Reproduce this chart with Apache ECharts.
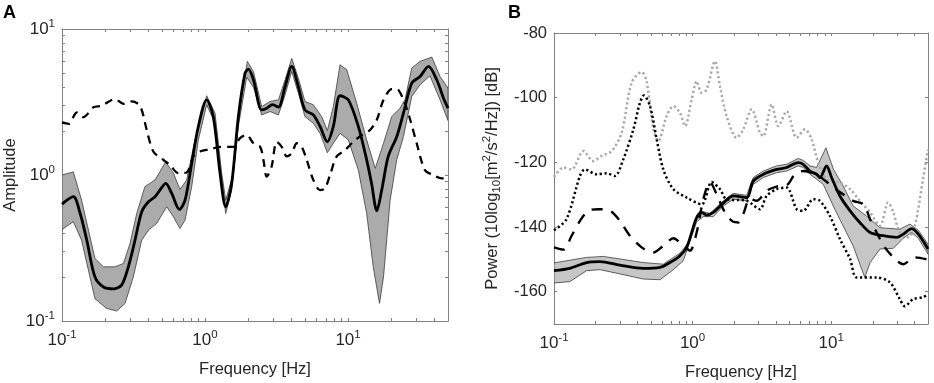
<!DOCTYPE html>
<html>
<head>
<meta charset="utf-8">
<script src="https://cdn.jsdelivr.net/npm/echarts@6/dist/echarts.min.js"></script>
<style>
  html, body { margin: 0; padding: 0; background: #fff; }
  #chart { width: 934px; height: 383px; }
</style>
</head>
<body>
<div id="chart"></div>
<script>
// ---- panel A: amplitude (log-log) ----
const ampMean = [[0.100,0.632],[0.120,0.710],[0.134,0.545],[0.149,0.358],[0.170,0.200],[0.195,0.171],[0.229,0.166],[0.261,0.176],[0.291,0.235],[0.324,0.358],[0.361,0.560],[0.402,0.656],[0.447,0.710],[0.484,0.789],[0.531,0.877],[0.585,0.748],[0.662,0.581],[0.725,0.673],[0.807,1.20],[0.898,2.15],[1.027,3.27],[1.143,2.51],[1.273,1.03],[1.395,0.606],[1.537,0.877],[1.710,2.51],[1.905,4.99],[2.01,5.31],[2.18,4.49],[2.49,2.79],[2.70,2.87],[2.97,3.03],[3.26,2.92],[3.63,4.04],[4.04,5.54],[4.49,4.04],[5.00,2.79],[5.72,2.58],[6.37,2.15],[7.17,1.69],[7.89,2.15],[8.79,3.49],[10.05,3.27],[11.8,2.15],[13.5,1.27],[14.6,0.877],[15.9,0.569],[17.2,0.789],[19.1,1.34],[21.9,1.83],[24.4,2.65],[27.9,4.26],[31.9,4.73],[36.5,5.54],[41.7,4.49],[46.5,3.36],[50,2.87]];
const ampUpper = [[0.100,1.00],[0.120,1.05],[0.137,0.673],[0.170,0.268],[0.195,0.235],[0.235,0.235],[0.269,0.248],[0.299,0.340],[0.333,0.545],[0.380,0.832],[0.447,0.924],[0.531,1.23],[0.601,1.03],[0.668,0.797],[0.744,0.924],[0.852,1.74],[1.027,3.49],[1.175,2.65],[1.308,1.03],[1.395,0.673],[1.578,1.03],[1.757,2.94],[1.977,6.00],[2.18,5.12],[2.49,2.94],[2.85,3.19],[3.26,3.27],[3.63,4.49],[4.04,6.29],[4.49,4.61],[5.00,3.19],[5.72,3.03],[6.55,2.51],[7.17,2.01],[7.89,2.94],[8.79,5.69],[9.80,5.26],[11.5,3.10],[13.5,1.74],[15.5,1.11],[17.7,1.65],[20.2,2.51],[23.1,2.87],[25.0,3.27],[27.9,5.40],[31.9,6.00],[38.5,6.42],[44.0,4.73],[50,3.94]];
const ampLower = [[0.100,0.424],[0.120,0.479],[0.137,0.358],[0.170,0.142],[0.205,0.122],[0.241,0.117],[0.276,0.132],[0.315,0.200],[0.361,0.358],[0.402,0.419],[0.459,0.466],[0.540,0.606],[0.601,0.518],[0.668,0.430],[0.725,0.491],[0.807,0.832],[0.898,1.74],[1.027,3.03],[1.175,2.26],[1.308,0.924],[1.395,0.545],[1.537,0.789],[1.710,2.15],[1.956,4.68],[2.18,4.00],[2.49,2.58],[2.85,2.72],[3.26,2.58],[3.63,3.54],[4.04,5.12],[4.49,3.64],[5.00,2.51],[5.72,2.26],[6.37,1.93],[7.17,1.42],[7.89,1.65],[8.79,1.93],[10.05,1.74],[11.8,1.08],[13.5,0.545],[15.0,0.235],[16.6,0.132],[17.7,0.200],[19.7,0.673],[21.9,1.27],[24.4,1.83],[27.9,3.45],[31.9,4.15],[37.4,4.78],[44.0,3.27],[50,2.36]];
const ampDashed = [[0.100,2.29],[0.111,2.24],[0.127,2.68],[0.141,2.49],[0.166,2.91],[0.189,2.98],[0.235,3.31],[0.269,3.07],[0.307,3.19],[0.351,2.98],[0.391,2.04],[0.435,1.45],[0.511,1.27],[0.569,1.17],[0.651,1.03],[0.744,1.04],[0.829,1.34],[0.923,1.45],[1.084,1.50],[1.273,1.56],[1.578,1.56],[1.757,1.79],[1.956,1.88],[2.18,1.65],[2.43,1.56],[2.56,1.27],[2.70,0.974],[2.92,1.14],[3.17,1.69],[3.44,1.56],[3.73,1.34],[4.04,1.41],[4.38,1.65],[4.74,1.56],[5.14,1.27],[5.72,0.924],[6.37,0.789],[6.90,0.810],[7.48,1.00],[8.33,1.34],[9.53,1.48],[10.9,1.69],[12.5,1.88],[14.3,2.04],[15.9,2.39],[17.7,3.27],[20.2,3.87],[21.9,3.87],[24.4,3.27],[27.2,2.39],[30.2,1.65],[34.5,1.08],[39.5,1.00],[45.2,0.949],[50,0.974]];

// ---- panel B: power spectral density (dB) ----
const psdMean = [[0.100,-153.5],[0.130,-152.8],[0.172,-151.0],[0.215,-150.7],[0.299,-151.8],[0.441,-152.8],[0.582,-152.5],[0.687,-151.0],[0.811,-148.9],[0.906,-146.3],[0.985,-141.7],[1.070,-137.1],[1.163,-135.5],[1.263,-136.3],[1.411,-135.5],[1.666,-132.6],[1.968,-130.4],[2.455,-130.9],[2.74,-125.8],[3.24,-123.7],[4.04,-122.2],[4.77,-121.6],[5.79,-120.1],[6.29,-120.6],[7.03,-122.7],[7.85,-123.7],[8.30,-124.7],[9.27,-121.1],[10.07,-124.7],[11.57,-130.4],[13.7,-135.0],[16.1,-138.6],[19.1,-141.7],[23.8,-142.7],[29.7,-143.2],[33.1,-142.2],[38.1,-140.5],[42.6,-142.2],[50,-146.8]];
const psdUpper = [[0.100,-151.1],[0.172,-149.4],[0.227,-149.1],[0.441,-151.0],[0.615,-151.5],[0.811,-148.1],[0.958,-144.3],[1.070,-136.6],[1.195,-135.3],[1.335,-135.8],[1.666,-131.9],[1.968,-129.6],[2.455,-130.2],[2.74,-124.7],[3.24,-122.7],[4.04,-121.1],[4.77,-120.6],[5.79,-118.8],[6.29,-119.4],[7.03,-121.1],[7.85,-121.6],[9.17,-115.5],[10.4,-122.2],[12.2,-127.3],[14.4,-133.5],[18.0,-136.6],[22.5,-140.2],[31.3,-140.7],[37.0,-139.1],[42.6,-141.0],[50,-145.3]];
const psdLower = [[0.100,-157.3],[0.130,-156.9],[0.172,-153.5],[0.215,-153.2],[0.299,-154.5],[0.441,-156.1],[0.582,-156.3],[0.726,-153.2],[0.857,-150.4],[0.985,-142.9],[1.070,-138.4],[1.195,-136.8],[1.411,-136.8],[1.666,-133.5],[1.968,-131.4],[2.455,-131.9],[2.74,-126.8],[3.24,-124.7],[4.04,-123.2],[4.77,-122.7],[5.79,-121.1],[6.29,-121.6],[7.03,-123.7],[7.85,-125.2],[8.77,-126.8],[10.9,-135.5],[14.4,-145.8],[17.5,-155.6],[19.1,-151.0],[22.5,-146.8],[28.1,-146.6],[33.1,-143.5],[38.1,-141.7],[42.6,-143.5],[50,-148.4]];
const psdDashed = [[0.100,-146.3],[0.117,-147.0],[0.134,-142.7],[0.154,-138.1],[0.177,-135.0],[0.209,-134.5],[0.254,-135.0],[0.299,-138.1],[0.353,-142.7],[0.429,-146.3],[0.521,-147.9],[0.615,-145.8],[0.726,-143.5],[0.857,-145.8],[0.958,-147.3],[1.070,-141.7],[1.195,-131.4],[1.335,-126.1],[1.492,-129.9],[1.714,-135.5],[1.968,-138.4],[2.14,-138.6],[2.32,-136.0],[2.60,-131.2],[2.90,-131.9],[3.42,-128.8],[4.04,-127.5],[4.77,-127.1],[5.48,-123.7],[6.29,-122.7],[7.43,-123.4],[8.78,-125.2],[10.4,-127.8],[12.2,-129.9],[14.4,-131.9],[17.1,-133.0],[19.1,-137.6],[21.3,-141.7],[24.4,-146.3],[29.7,-150.4],[33.1,-151.5],[40.2,-149.4],[50,-150.1]];
const psdDotted = [[0.100,-141.0],[0.123,-137.6],[0.154,-124.2],[0.167,-122.2],[0.203,-123.7],[0.240,-123.4],[0.275,-124.2],[0.316,-119.1],[0.374,-109.8],[0.417,-101.6],[0.446,-99.3],[0.493,-102.6],[0.551,-112.9],[0.615,-122.2],[0.726,-128.3],[0.906,-130.9],[1.163,-133.0],[1.373,-126.1],[1.577,-128.3],[1.761,-131.4],[2.455,-131.9],[3.06,-134.5],[3.42,-130.4],[4.04,-128.3],[4.77,-127.8],[5.64,-134.5],[6.29,-135.0],[7.43,-131.4],[8.30,-131.9],[9.80,-136.6],[11.6,-143.8],[13.7,-149.9],[15.3,-155.6],[21.3,-155.6],[26.5,-157.1],[31.3,-162.3],[34.0,-164.5],[39.1,-162.3],[46.2,-161.7],[50,-160.7]];
const psdGrayDotted = [[0.100,-124.5],[0.117,-121.6],[0.134,-122.2],[0.163,-116.5],[0.192,-119.6],[0.221,-118.0],[0.261,-116.5],[0.308,-110.8],[0.363,-95.4],[0.429,-92.1],[0.466,-94.9],[0.521,-109.8],[0.566,-113.4],[0.650,-105.7],[0.726,-102.6],[0.811,-104.7],[0.882,-108.8],[0.985,-100.6],[1.070,-94.9],[1.163,-98.5],[1.263,-97.5],[1.451,-88.7],[1.577,-96.5],[1.761,-105.7],[2.08,-112.4],[2.32,-109.8],[2.67,-103.6],[3.06,-110.8],[3.24,-111.9],[3.72,-102.1],[4.16,-108.8],[4.77,-104.2],[5.64,-112.4],[6.47,-109.8],[7.23,-112.9],[8.07,-120.1],[9.27,-125.2],[11.6,-126.3],[13.7,-128.3],[16.1,-131.9],[19.1,-135.5],[22.5,-139.6],[25.8,-132.4],[28.1,-135.5],[31.3,-141.7],[36.0,-143.2],[40.2,-139.6],[46.2,-124.7],[50,-116.0]];

// ---- ticks ----
const freqTicks = [0.1,0.2,0.3,0.4,0.5,0.6,0.7,0.8,0.9,1,2,3,4,5,6,7,8,9,10,20,30,40,50];
const ampTicks = [0.1,0.2,0.3,0.4,0.5,0.6,0.7,0.8,0.9,1,2,3,4,5,6,7,8,9,10];
const decadeLabels = [0.1, 1, 10];
const dbTicks = [-160, -140, -120, -100, -80];

const FONT = "'Liberation Sans', Arial, sans-serif";
const AXIS = "#808080";
const TXT = "#262626";

const rich = {
  b: { fontSize: 17, fontFamily: FONT, color: TXT, lineHeight: 22 },
  s: { fontSize: 11.5, fontFamily: FONT, color: TXT, lineHeight: 11, verticalAlign: "top" },
  u: { fontSize: 11.5, fontFamily: FONT, color: TXT, lineHeight: 11, verticalAlign: "bottom" }
};
const powLabel = v => `{b|10}{s|${Math.round(Math.log10(v))}}`;
const nameStyle = { fontSize: 16.5, fontFamily: FONT, color: TXT, lineHeight: 22, rich };

function axisCommon(ticks) {
  return {
    axisLine: { show: true, onZero: false, lineStyle: { color: AXIS, width: 1 } },
    axisTick: { show: true, inside: true, length: 3, customValues: ticks, lineStyle: { color: AXIS } },
    splitLine: { show: false },
    minorTick: { show: false },
    nameMoveOverlap: false
  };
}

function freqAxis(grid, pos, withLabels) {
  return Object.assign(axisCommon(freqTicks), {
    type: "log", logBase: 10, gridIndex: grid, position: pos, min: 0.1, max: 50,
    axisLabel: { show: withLabels, customValues: decadeLabels, formatter: powLabel, rich, margin: 8 },
    name: withLabels ? "Frequency [Hz]" : "",
    nameLocation: "middle", nameGap: 37, nameTextStyle: nameStyle
  });
}

function ampAxis(pos, withLabels) {
  return Object.assign(axisCommon(ampTicks), {
    type: "log", logBase: 10, gridIndex: 0, position: pos, min: 0.1, max: 10,
    axisLabel: { show: withLabels, customValues: decadeLabels, formatter: powLabel, rich, margin: 7 },
    name: withLabels ? "Amplitude" : "",
    nameLocation: "middle", nameRotate: 90, nameGap: 41, nameTextStyle: nameStyle
  });
}

function dbAxis(pos, withLabels) {
  return Object.assign(axisCommon(dbTicks), {
    type: "value", gridIndex: 1, position: pos, min: -170, max: -80,
    axisLabel: { show: withLabels, customValues: dbTicks, margin: 7, fontSize: 16.5, fontFamily: FONT, color: TXT },
    name: withLabels ? "Power (10log{u|10}[m{s|2}/s{s|2}/Hz]) [dB]" : "",
    nameLocation: "middle", nameRotate: 90, nameGap: 51, nameTextStyle: nameStyle
  });
}

function line(ax, data, color, width, type) {
  return {
    type: "line", xAxisIndex: ax, yAxisIndex: ax, data,
    showSymbol: false, symbol: "none", smooth: 0.3, silent: true,
    lineStyle: { color, width, type, cap: "butt" }
  };
}

function band(ax, upper, lower, fill, anchor) {
  return {
    type: "custom", xAxisIndex: ax, yAxisIndex: ax, silent: true, clip: true,
    data: [anchor],
    renderItem: (params, api) => ({
      type: "polygon",
      shape: {
        points: upper.map(p => api.coord(p)).concat(lower.slice().reverse().map(p => api.coord(p)))
      },
      style: { fill, stroke: "#3c3c3c", lineWidth: 0.8 }
    })
  };
}

const chart = echarts.init(document.getElementById("chart"), null, { renderer: "canvas" });

chart.setOption({
  animation: false,
  backgroundColor: "#fff",
  grid: [
    { left: 62, top: 29, width: 386, height: 292, outerBoundsMode: "none" },
    { left: 554, top: 33, width: 374, height: 291, outerBoundsMode: "none" }
  ],
  xAxis: [freqAxis(0, "bottom", true), freqAxis(0, "top", false), freqAxis(1, "bottom", true), freqAxis(1, "top", false)],
  yAxis: [ampAxis("left", true), ampAxis("right", false), dbAxis("left", true), dbAxis("right", false)],
  graphic: [
    { type: "text", left: 3, top: 4, style: { text: "A", font: `bold 18px ${FONT}`, fill: "#000" } },
    { type: "text", left: 508, top: 4, style: { text: "B", font: `bold 18px ${FONT}`, fill: "#000" } }
  ],
  series: [
    band(0, ampUpper, ampLower, "#ababab", [1, 1]),
    line(0, ampDashed, "#000", 2.3, [8, 6]),
    line(0, ampMean, "#000", 2.8, "solid"),

    line(2, psdGrayDotted, "#a8a8a8", 2.5, [2.2, 2.6]),
    line(2, psdDotted, "#000", 2.5, [2.2, 2.6]),
    band(2, psdUpper, psdLower, "#c6c6c6", [1, -120]),
    line(2, psdMean, "#000", 2.8, "solid"),
    line(2, psdDashed, "#000", 2.4, [11, 9])
  ]
});
</script>
</body>
</html>
